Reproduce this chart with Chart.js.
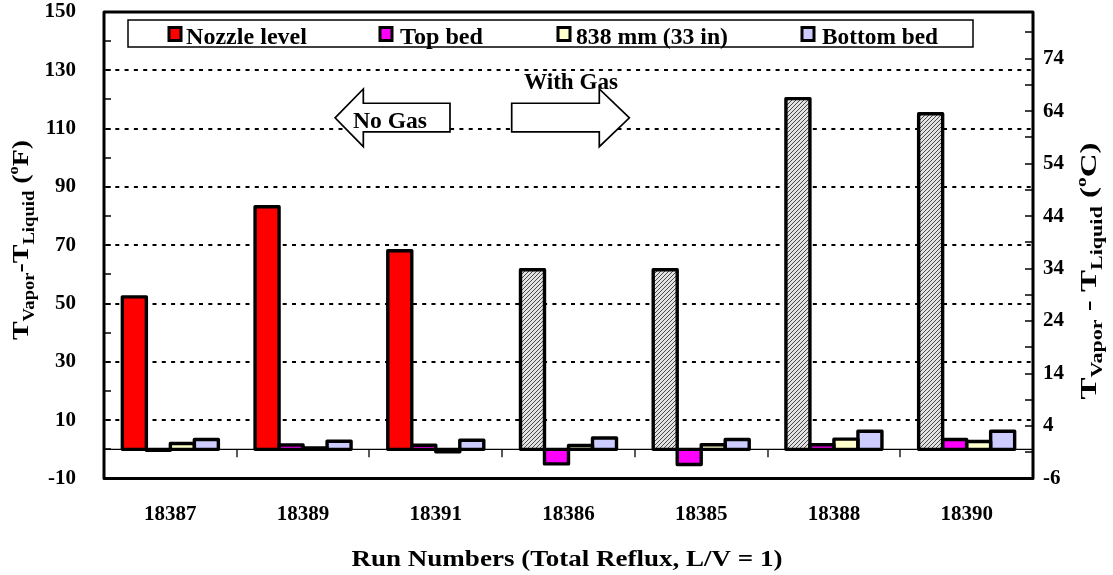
<!DOCTYPE html>
<html><head><meta charset="utf-8">
<script src="https://cdn.jsdelivr.net/npm/chart.js@4.4.1/dist/chart.umd.min.js"></script>
<style>html,body{margin:0;padding:0;background:#fff;}#wrap{width:1113px;height:575px;}</style>
</head><body><div id="wrap"><canvas id="c" width="1113" height="575"></canvas></div>
<script>
// ---- data ----
const categories = ['18387','18389','18391','18386','18385','18388','18390'];
const withGas = [false, false, false, true, true, true, true];
const seriesNames = ['Nozzle level', 'Top bed', '838 mm (33 in)', 'Bottom bed'];
const seriesColors = ['#FF0000', '#FF00FF', '#FFFFCC', '#CCCCFF'];
const nozzleLevel = [52.3, 83.2, 68.1, 61.6, 61.6, 120.3, 115.1];
const topBed = [-0.3, 1.5, 1.4, -5.0, -5.2, 1.6, 3.4];
const mm838 = [2.0, 0.5, -0.8, 1.3, 1.6, 3.5, 2.7];
const bottomBed = [3.4, 2.8, 3.1, 3.9, 3.4, 6.2, 6.2];
const leftTickValues = [-10,0,10,20,30,40,50,60,70,80,90,100,110,120,130,140,150];
const leftTickLabels = [-10,10,30,50,70,90,110,130,150];
const gridValues = [10,30,50,70,90,110,130];
const rightTickValues = [-6,-1,4,9,14,19,24,29,34,39,44,49,54,59,64,69,74,79];
const rightTickLabels = [-6,4,14,24,34,44,54,64,74];

const FONT = '"Liberation Serif", "Times New Roman", serif';

// hatch pattern for "with gas" nozzle bars
function makeHatch() {
  const c = document.createElement('canvas'); c.width = 4; c.height = 4;
  const g = c.getContext('2d');
  g.fillStyle = '#e2e2e2'; g.fillRect(0, 0, 4, 4);
  g.strokeStyle = '#4a4a4a'; g.lineWidth = 1;
  g.beginPath();
  g.moveTo(0, 4); g.lineTo(4, 0);
  g.moveTo(-1, 1); g.lineTo(1, -1);
  g.moveTo(3, 5); g.lineTo(5, 3);
  g.stroke();
  return g.createPattern(c, 'repeat');
}
const hatch = makeHatch();
const nozzleColors = categories.map((c, i) => withGas[i] ? hatch : seriesColors[0]);

function drawRich(ctx, segs, cx, cy, angle, target) {
  let total = 0;
  segs.forEach(s => { ctx.font = s.f; s.w = ctx.measureText(s.t).width; total += s.w; });
  const k = target / total;
  ctx.save();
  ctx.translate(cx, cy); ctx.rotate(angle); ctx.scale(k, 1);
  ctx.fillStyle = '#000'; ctx.textBaseline = 'alphabetic'; ctx.textAlign = 'left';
  let x = -total / 2;
  segs.forEach(s => { ctx.font = s.f; ctx.fillText(s.t, x, s.dy || 0); x += s.w; });
  ctx.restore();
}
function fitText(ctx, text, cx, by, font, target) {
  ctx.save(); ctx.font = font;
  const w = ctx.measureText(text).width; const k = target / w;
  ctx.translate(cx, by); ctx.scale(k, 1);
  ctx.textAlign = 'center'; ctx.textBaseline = 'alphabetic'; ctx.fillStyle = '#000';
  ctx.fillText(text, 0, 0); ctx.restore();
}

const deco = {
  id: 'deco',
  beforeDatasetsDraw(chart) {
    const { ctx, chartArea: a, scales: { y } } = chart;
    ctx.save();
    ctx.strokeStyle = '#000'; ctx.lineWidth = 2; ctx.setLineDash([4, 5.3]);
    gridValues.forEach(v => {
      const py = Math.round(y.getPixelForValue(v));
      ctx.beginPath(); ctx.moveTo(a.left + 2, py); ctx.lineTo(a.right, py); ctx.stroke();
    });
    ctx.setLineDash([]); ctx.lineWidth = 1.2;
    const z = y.getPixelForValue(0);
    ctx.beginPath(); ctx.moveTo(a.left, z); ctx.lineTo(a.right, z); ctx.stroke();
    ctx.restore();
  },
  afterDatasetsDraw(chart) {
    const { ctx, chartArea: a, scales: { x, y, y2 } } = chart;
    ctx.save();
    // bar outlines centered on bar edges
    ctx.strokeStyle = '#000'; ctx.lineWidth = 3.4; ctx.lineJoin = 'round';
    chart.data.datasets.forEach((ds, i) => {
      chart.getDatasetMeta(i).data.forEach(el => {
        const p = el.getProps(['x', 'y', 'base', 'width'], true);
        const top = Math.min(p.y, p.base), h = Math.abs(p.base - p.y);
        ctx.strokeRect(p.x - p.width / 2, top, p.width, h);
      });
    });
    // category tick marks on the zero line
    const z = y.getPixelForValue(0);
    ctx.lineWidth = 1.3;
    for (let i = 1; i < categories.length; i++) {
      const px = Math.round((x.getPixelForValue(i - 1) + x.getPixelForValue(i)) / 2);
      ctx.beginPath(); ctx.moveTo(px, z); ctx.lineTo(px, z + 8); ctx.stroke();
    }
    // left ticks (inward)
    ctx.lineWidth = 1.5;
    leftTickValues.forEach(v => {
      const py = Math.round(y.getPixelForValue(v));
      ctx.beginPath(); ctx.moveTo(a.left, py); ctx.lineTo(a.left + 7, py); ctx.stroke();
    });
    // right ticks (inward)
    rightTickValues.forEach(v => {
      const py = Math.round(y2.getPixelForValue(v));
      ctx.beginPath(); ctx.moveTo(a.right, py); ctx.lineTo(a.right - 8, py); ctx.stroke();
    });
    // plot border
    ctx.lineWidth = 3;
    ctx.strokeRect(a.left, a.top, a.right - a.left, a.bottom - a.top);

    // arrows
    const X = v => x.getPixelForValue(v), Y = v => y.getPixelForValue(v);
    ctx.lineWidth = 1.7; ctx.lineJoin = 'miter'; ctx.fillStyle = '#fff';
    ctx.beginPath();
    ctx.moveTo(X(1.241), Y(113.7)); ctx.lineTo(X(1.454), Y(123.6)); ctx.lineTo(X(1.454), Y(118.7));
    ctx.lineTo(X(2.107), Y(118.7)); ctx.lineTo(X(2.107), Y(108.9)); ctx.lineTo(X(1.454), Y(108.9));
    ctx.lineTo(X(1.454), Y(103.8)); ctx.closePath(); ctx.fill(); ctx.stroke();
    ctx.beginPath();
    ctx.moveTo(X(3.459), Y(113.7)); ctx.lineTo(X(3.232), Y(123.6)); ctx.lineTo(X(3.232), Y(118.7));
    ctx.lineTo(X(2.572), Y(118.7)); ctx.lineTo(X(2.572), Y(108.9)); ctx.lineTo(X(3.232), Y(108.9));
    ctx.lineTo(X(3.232), Y(103.8)); ctx.closePath(); ctx.fill(); ctx.stroke();
    fitText(ctx, 'No Gas', X(1.655), Y(110.3), 'bold 23px ' + FONT, 74);
    fitText(ctx, 'With Gas', X(3.019), Y(123.6), 'bold 23px ' + FONT, 94);

    // legend
    ctx.fillStyle = '#fff'; ctx.lineWidth = 1.5; ctx.strokeStyle = '#000';
    ctx.fillRect(128, 20, 845, 27); ctx.strokeRect(128, 20, 845, 27);
    const mk = [169, 380, 558, 802], tx = [186, 400, 576, 822], tw = [121, 83, 152, 116];
    seriesNames.forEach((name, i) => {
      ctx.fillStyle = seriesColors[i]; ctx.lineWidth = 3;
      ctx.fillRect(mk[i], 27.5, 12, 13); ctx.strokeRect(mk[i], 27.5, 12, 13);
      ctx.save(); ctx.font = 'bold 23px ' + FONT;
      const w = ctx.measureText(name).width;
      ctx.translate(tx[i], 43.5); ctx.scale(tw[i] / w, 1);
      ctx.fillStyle = '#000'; ctx.textBaseline = 'alphabetic'; ctx.textAlign = 'left';
      ctx.fillText(name, 0, 0); ctx.restore();
    });

    // axis titles
    const M = 'bold 24px ' + FONT, S = 'bold 16px ' + FONT, P = 'bold 14px ' + FONT;
    drawRich(ctx, [
      { t: 'T', f: M }, { t: 'Vapor', f: S, dy: 6 }, { t: '-', f: M }, { t: 'T', f: M },
      { t: 'Liquid', f: S, dy: 6 }, { t: ' (', f: M }, { t: 'o', f: P, dy: -10 }, { t: 'F)', f: M }
    ], 28, 240, -Math.PI / 2, 200);
    drawRich(ctx, [
      { t: 'T', f: M }, { t: 'Vapor', f: S, dy: 6 }, { t: ' - ', f: M }, { t: 'T', f: M },
      { t: 'Liquid', f: S, dy: 6 }, { t: ' (', f: M }, { t: 'o', f: P, dy: -10 }, { t: 'C)', f: M }
    ], 1096, 271, -Math.PI / 2, 257);
    drawRich(ctx, [{ t: 'Run Numbers (Total Reflux, L/V = 1)', f: M }], 567, 566, 0, 431);
    ctx.restore();
  }
};

const noPad = s => { s.paddingTop = 0; s.paddingBottom = 0; };
const tickFont = { family: FONT, size: 21, weight: 'bold', lineHeight: 1 };
new Chart(document.getElementById('c'), {
  type: 'bar',
  data: {
    labels: categories,
    datasets: [
      { label: seriesNames[0], data: nozzleLevel, backgroundColor: nozzleColors },
      { label: seriesNames[1], data: topBed, backgroundColor: seriesColors[1] },
      { label: seriesNames[2], data: mm838, backgroundColor: seriesColors[2] },
      { label: seriesNames[3], data: bottomBed, backgroundColor: seriesColors[3] }
    ].map(d => Object.assign(d, { borderWidth: 0, categoryPercentage: 0.7235, barPercentage: 1, yAxisID: 'y' }))
  },
  options: {
    responsive: false, animation: false, devicePixelRatio: 1,
    layout: { padding: { top: 12, left: 0, right: 0, bottom: 0 } },
    plugins: { legend: { display: false }, tooltip: { enabled: false } },
    scales: {
      x: {
        type: 'category', offset: true,
        grid: { display: false, drawTicks: false }, border: { display: false },
        ticks: { font: tickFont, color: '#000', padding: 26, maxRotation: 0, autoSkip: false },
        afterFit: s => { s.height = 96.5; s.paddingLeft = 0; s.paddingRight = 0; }
      },
      y: {
        type: 'linear', position: 'left', min: -10, max: 150,
        afterBuildTicks: s => { s.ticks = leftTickValues.map(v => ({ value: v })); },
        grid: { display: false, drawTicks: false }, border: { display: false },
        ticks: { font: tickFont, color: '#000', padding: 28, autoSkip: false,
          callback: v => leftTickLabels.includes(v) ? String(v) : '' },
        afterFit: s => { s.width = 104; noPad(s); }
      },
      y2: {
        type: 'linear', position: 'right', min: -6, max: -6 + 160 / 1.8,
        afterBuildTicks: s => { s.ticks = rightTickValues.map(v => ({ value: v })); },
        grid: { display: false, drawTicks: false }, border: { display: false },
        ticks: { font: tickFont, color: '#000', padding: 10, autoSkip: false,
          callback: v => rightTickLabels.includes(v) ? String(v) : '' },
        afterFit: s => { s.width = 80; noPad(s); }
      }
    }
  },
  plugins: [deco]
});
</script></body></html>
